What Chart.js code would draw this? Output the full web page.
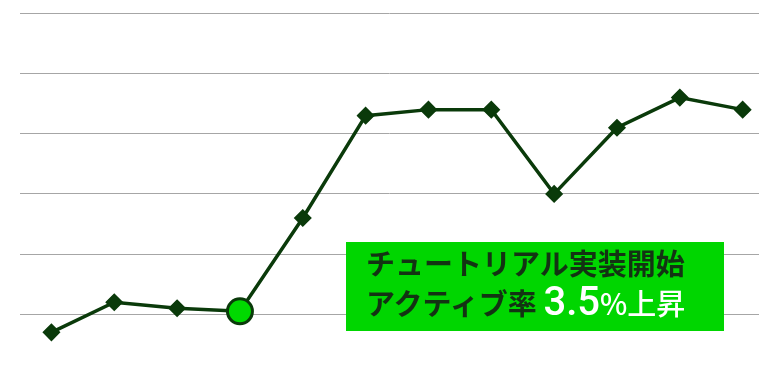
<!DOCTYPE html>
<html>
<head>
<meta charset="utf-8">
<script src="https://cdn.jsdelivr.net/npm/chart.js@4"></script>
<style>
  html, body { margin:0; padding:0; background:#fff; }
  #wrap { position:relative; width:759px; height:370px; }
  #chart { display:block; }
  .note {
    position:absolute; left:346px; top:242px; width:378px; height:89px;
    background:#00d600;
    font-family:"Noto Sans CJK JP", sans-serif; font-weight:700; color:#133313;
  }
  .note .l1 { position:absolute; left:20px; top:0px; font-size:29px; line-height:40px; white-space:nowrap; }
  .note .l2 { position:absolute; left:20px; top:38px; font-size:29px; line-height:44px; white-space:nowrap; }
  .note .hi { color:#fff; }
  .note .num { font-family:Roboto, "Noto Sans", sans-serif; font-weight:500; font-size:40px; }
  .note .pct { font-weight:500; font-size:29px; }
</style>
</head>
<body>
<div id="wrap">
  <canvas id="chart" width="759" height="370"></canvas>
  <div class="note">
    <div class="l1">チュートリアル実装開始</div>
    <div class="l2">アクティブ率 <span class="hi num">3.5</span><span class="hi pct">%上昇</span></div>
  </div>
</div>
<script>
/* ── DATA ──────────────────────────────── */
const PERIODS = [1,2,3,4,5,6,7,8,9,10,11,12];
const ACTIVE_RATE = [9.7,10.2,10.1,10.05,11.6,13.3,13.4,13.4,12.0,13.1,13.6,13.4];
const GRID_TICKS = [10,11,12,13,14,15];
const LAUNCH_INDEX = 3;   // tutorial release point

/* ── STYLE ─────────────────────────────── */
const LINE   = '#0a3a0a';
const GRID   = '#a6a6a6';
const BRIGHT = '#00d900';

const points = PERIODS.map((p, i) => ({ x: p, y: ACTIVE_RATE[i] }));

new Chart(document.getElementById('chart'), {
  type: 'line',
  data: {
    datasets: [{
      data: points,
      borderColor: LINE,
      borderWidth: 3.5,
      tension: 0,
      pointStyle: ctx => ctx.dataIndex === LAUNCH_INDEX ? 'circle' : 'rectRot',
      pointRadius: ctx => ctx.dataIndex === LAUNCH_INDEX ? 12.5 : 8,
      pointBackgroundColor: ctx => ctx.dataIndex === LAUNCH_INDEX ? BRIGHT : LINE,
      pointBorderColor: LINE,
      pointBorderWidth: ctx => ctx.dataIndex === LAUNCH_INDEX ? 3 : 1.5,
    }]
  },
  options: {
    responsive: false,
    animation: false,
    layout: { autoPadding: false, padding: { left: 20, right: 0, top: 0, bottom: 0 } },
    plugins: { legend: { display: false }, tooltip: { enabled: false } },
    scales: {
      x: { type: 'linear', display: false, min: 0.5, max: 12.26 },
      y: {
        min: 9.075, max: 15.221,
        afterBuildTicks: axis => { axis.ticks = GRID_TICKS.map(v => ({ value: v })); },
        ticks: { display: false },
        border: { display: false },
        grid: { color: GRID, lineWidth: 1, drawTicks: false }
      }
    }
  }
});
</script>
</body>
</html>
